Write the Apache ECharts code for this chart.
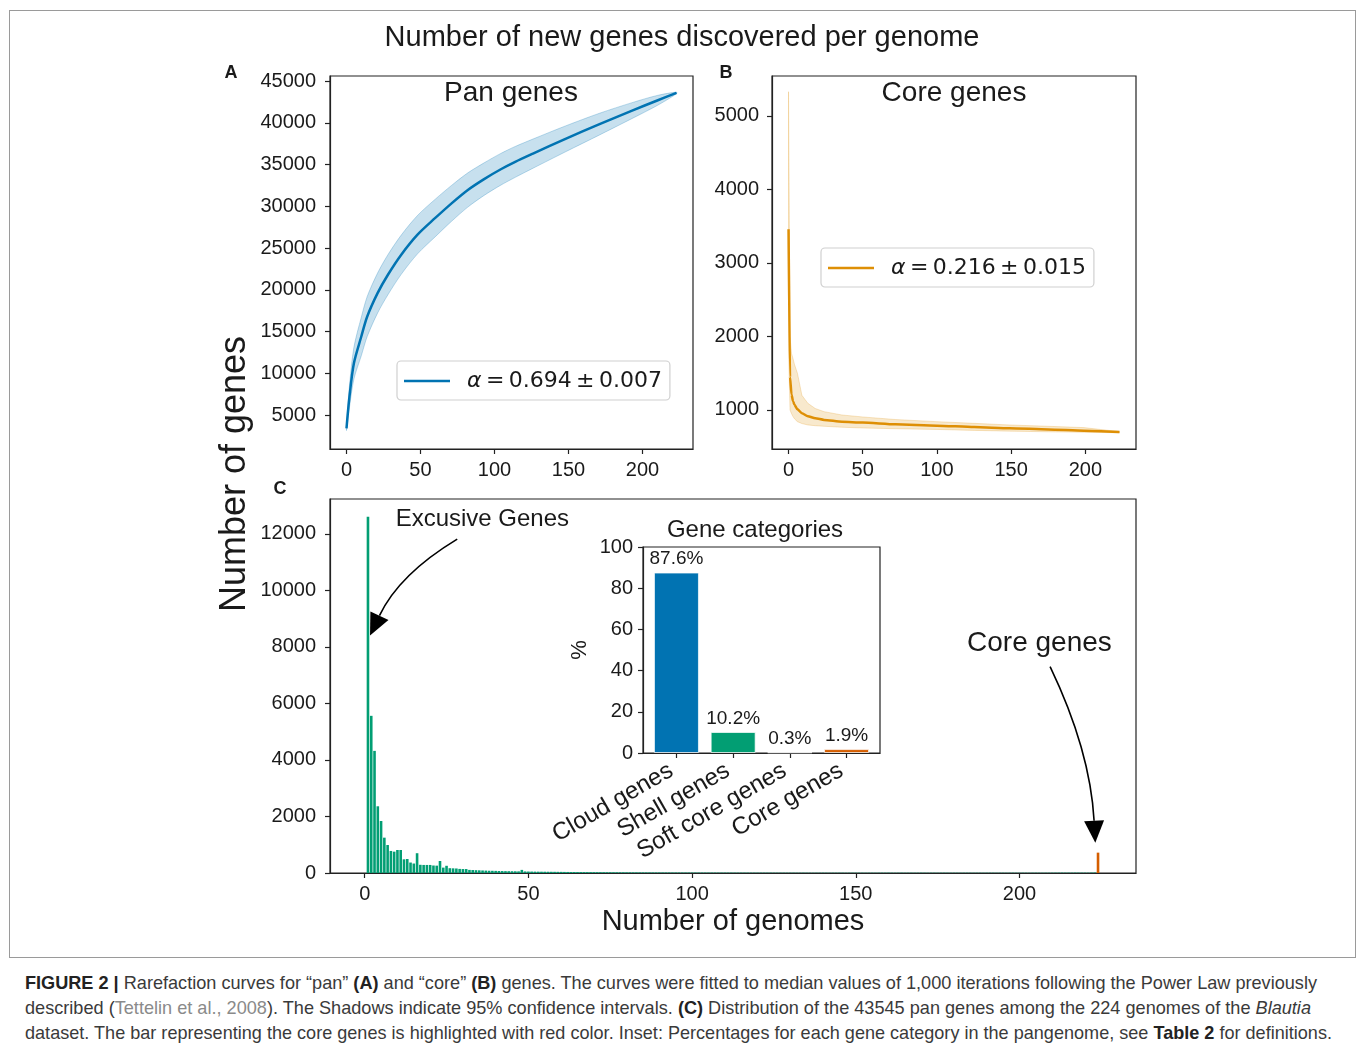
<!DOCTYPE html>
<html>
<head>
<meta charset="utf-8">
<script src="https://cdn.jsdelivr.net/npm/echarts@6/dist/echarts.min.js"></script>
<style>
  body { margin: 0; background: #fff; }
  #frame { position: absolute; left: 9px; top: 10px; width: 1347px; height: 948px; border: 1px solid #9a9a9a; box-sizing: border-box; }
  #chart { position: absolute; left: 0; top: 0; width: 1357px; height: 960px; }
  #caption { position: absolute; left: 25px; top: 970px; font-family: 'Liberation Sans', Arial, sans-serif; font-size: 19px; color: #3a3a3a; }
  #caption div { white-space: nowrap; height: 25px; line-height: 25px; }
  #caption span.line { display: inline-block; transform-origin: 0 50%; }
  #caption b { color: #222; }
  #caption .ref { color: #8a8a8a; }
</style>
</head>
<body>
<div id="frame"></div>
<div id="chart"></div>
<div id="caption">
  <div><span class="line"><b>FIGURE 2 |</b> Rarefaction curves for “pan” <b>(A)</b> and “core” <b>(B)</b> genes. The curves were fitted to median values of 1,000 iterations following the Power Law previously</span></div>
  <div><span class="line">described (<span class="ref">Tettelin et al., 2008</span>). The Shadows indicate 95% confidence intervals. <b>(C)</b> Distribution of the 43545 pan genes among the 224 genomes of the <i>Blautia</i></span></div>
  <div><span class="line">dataset. The bar representing the core genes is highlighted with red color. Inset: Percentages for each gene category in the pangenome, see <b>Table 2</b> for definitions.</span></div>
</div>
<script>
// --- panel A: pan genes rarefaction (median + 95% band)
const panX      = [0, 2, 5, 10, 14, 21, 28, 37, 48, 60, 71, 82, 93, 104, 114, 126, 148, 171, 193, 210, 223];
const panMedian = [3400, 7200, 11200, 14400, 16800, 19600, 21800, 24200, 26600, 28600, 30350, 31950, 33250, 34400, 35310, 36300, 38070, 39840, 41460, 42670, 43570];
const panUpper  = [3650, 8500, 13100, 16700, 19200, 22000, 24200, 26550, 28900, 30850, 32500, 34000, 35200, 36300, 37160, 38050, 39620, 41140, 42410, 43270, 43670];
const panLower  = [3150, 5900, 9300, 12100, 14400, 17200, 19400, 21850, 24300, 26350, 28200, 29900, 31300, 32500, 33460, 34550, 36520, 38540, 40510, 42070, 43470];

// --- panel B: core genes rarefaction
const coreX      = [0, 1, 2, 3, 4, 6, 9, 13, 18, 24, 36, 50, 72, 100, 125, 149, 175, 199, 223];
const coreMedian = [3460, 1450, 1210, 1120, 1070, 1010, 955, 915, 887, 865, 841, 828, 805, 787, 768, 751, 735, 719, 701];
const coreUpper  = [5330, 2000, 1770, 1700, 1620, 1500, 1200, 1091, 1020, 977, 932, 905, 870, 841, 818, 796, 778, 760, 706];
const coreLower  = [1800, 1000, 950, 910, 880, 841, 815, 796, 786, 778, 765, 755, 745, 735, 722, 712, 703, 697, 690];

// --- panel C: number of genes shared by exactly n genomes (n = 1..224)
const genomeCounts = [
  12600, 5560, 4320, 2360, 1840, 1250, 990, 780, 755, 814,
  814, 484, 495, 370, 335, 700, 290, 285, 285, 285,
  265, 260, 425, 190, 255, 170, 165, 160, 145, 140,
  140, 110, 105, 100, 95, 90, 85, 80, 78, 75,
  70, 68, 66, 64, 62, 60, 58, 110, 55, 52,
  50, 48, 47, 46, 45, 44, 43, 42, 41, 40,
  38, 37, 36, 35, 34, 33, 32, 32, 31, 30,
  30, 29, 28, 28, 27, 26, 26, 25, 25, 24,
  24, 23, 23, 22, 22, 21, 21, 20, 20, 20,
  19, 19, 19, 18, 18, 18, 17, 17, 17, 16,
  16, 16, 16, 15, 15, 15, 15, 14, 14, 14,
  14, 14, 13, 13, 13, 13, 13, 12, 12, 12,
  12, 12, 12, 12, 11, 11, 11, 11, 11, 11,
  11, 10, 10, 11, 10, 10, 9, 10, 10, 11,
  10, 9, 10, 10, 11, 10, 9, 10, 10, 10,
  11, 10, 9, 10, 10, 9, 10, 11, 10, 12,
  10, 9, 10, 11, 9, 10, 10, 9, 10, 11,
  10, 9, 10, 10, 9, 10, 11, 10, 9, 10,
  10, 9, 10, 11, 10, 9, 10, 10, 9, 10,
  11, 10, 9, 10, 10, 9, 10, 11, 10, 9,
  10, 10, 9, 10, 11, 10, 9, 10, 10, 11,
  12, 12, 14, 12, 13, 12, 14, 13, 12, 12,
  11, 15, 18, 720
];

// --- inset: gene categories
const categoryNames   = ['Cloud genes', 'Shell genes', 'Soft core genes', 'Core genes'];
const categoryPercent = [87.6, 10.2, 0.3, 1.9];

// --- ticks
const genomeTicks = [0, 50, 100, 150, 200];
const panTicksY   = [5000, 10000, 15000, 20000, 25000, 30000, 35000, 40000, 45000];
const coreTicksY  = [1000, 2000, 3000, 4000, 5000];
const histTicksY  = [0, 2000, 4000, 6000, 8000, 10000, 12000];
const insetTicksY = [0, 20, 40, 60, 80, 100];

const BLUE = '#0173b2', ORANGE = '#de8f05', GREEN = '#029e73', RED = '#d55e00';
const FONT = "'Liberation Sans', Arial, sans-serif";
const MATH = "'DejaVu Sans', sans-serif";
const INK = '#1a1a1a';

const pairs = (xs, ys) => xs.map((x, i) => [x, ys[i]]);

function valueAxis(grid, min, max, ticks, extra, margin) {
  return Object.assign({
    type: 'value', gridIndex: grid, min: min, max: max,
    axisLine: { show: true, onZero: false, lineStyle: { color: '#222', width: 1.2 } },
    axisTick: { show: true, length: 5, lineStyle: { color: '#222', width: 1.2 }, customValues: ticks },
    axisLabel: { customValues: ticks, formatter: v => String(v), fontFamily: FONT, fontSize: 20, color: INK, margin: margin || 11 },
    splitLine: { show: false }
  }, extra || {});
}

// shaded confidence band drawn as one polygon through the axis scales
function bandSeries(idx, xs, lo, up, fill, edge, smooth) {
  return {
    type: 'custom', xAxisIndex: idx, yAxisIndex: idx, silent: true, z: 1,
    data: [[xs[0], lo[0]]],
    renderItem: (params, api) => {
      const top = xs.map((x, i) => api.coord([x, up[i]]));
      const bottom = xs.map((x, i) => api.coord([x, lo[i]])).reverse();
      return {
        type: 'polygon',
        shape: { points: top.concat(bottom), smooth: smooth },
        style: { fill: fill, stroke: edge, lineWidth: 1 }
      };
    }
  };
}

const gridBase = { show: true, borderColor: '#222', borderWidth: 1.2, backgroundColor: '#fff', outerBoundsMode: 'none', containLabel: false };

const chart = echarts.init(document.getElementById('chart'));

const legendBase = {
  orient: 'horizontal', selectedMode: false,
  itemWidth: 46, itemHeight: 2.5,
  backgroundColor: 'rgba(255,255,255,0.85)',
  borderColor: '#d0d0d0', borderWidth: 1.2, borderRadius: 4,
  padding: [9, 8, 8, 7],
  formatter: n => n.replace('α', '{i|α}'),
  textStyle: {
    fontFamily: MATH, fontSize: 22, color: INK, padding: [0, 0, 0, 12],
    rich: { i: { fontFamily: MATH, fontStyle: 'italic', fontSize: 22, color: INK } }
  }
};

const panName = 'α\u2009=\u20090.694\u2009±\u20090.007';
const coreName = 'α\u2009=\u20090.216\u2009±\u20090.015';

const option = {
  animation: false,
  backgroundColor: 'transparent',
  grid: [
    Object.assign({ left: 330, top: 76, width: 363, height: 373 }, gridBase),
    Object.assign({ left: 772, top: 76, width: 364, height: 373 }, gridBase),
    Object.assign({ left: 330, top: 499, width: 806, height: 374 }, gridBase),
    Object.assign({ left: 643, top: 547, width: 237, height: 206 }, gridBase)
  ],
  xAxis: [
    valueAxis(0, -11.15, 234.15, genomeTicks),
    valueAxis(1, -11.15, 234.15, genomeTicks),
    valueAxis(2, -10.6, 235.6, genomeTicks, {
      name: 'Number of genomes', nameLocation: 'middle', nameGap: 34,
      nameTextStyle: { fontFamily: FONT, fontSize: 29, color: INK }
    }),
    valueAxis(3, -0.59, 3.59, [0, 1, 2, 3], {
      axisLabel: {
        customValues: [0, 1, 2, 3], formatter: v => categoryNames[v] || '',
        rotate: 30, fontFamily: FONT, fontSize: 24, color: INK, margin: 13, padding: [0, 6, 0, 0]
      }
    })
  ],
  yAxis: [
    valueAxis(0, 928, 45600, panTicksY, null, 14),
    valueAxis(1, 469, 5544, coreTicksY, null, 13),
    valueAxis(2, 0, 13230, histTicksY, null, 14),
    valueAxis(3, 0, 100, insetTicksY, {
      name: '%', nameLocation: 'middle', nameGap: 52, nameRotate: 90,
      nameTextStyle: { fontFamily: FONT, fontSize: 22, color: INK }
    }, 10)
  ],
  legend: [
    Object.assign({ left: 397, top: 361, data: [{ name: panName, icon: 'rect' }] }, legendBase),
    Object.assign({ left: 821, top: 248, data: [{ name: coreName, icon: 'rect' }] }, legendBase)
  ],
  series: [
    // A band + median
    bandSeries(0, panX, panLower, panUpper, 'rgba(1,115,178,0.22)', 'rgba(1,115,178,0.25)', 0.3),
    { name: panName, type: 'line', xAxisIndex: 0, yAxisIndex: 0, data: pairs(panX, panMedian),
      symbol: 'none', smooth: 0.3, lineStyle: { color: BLUE, width: 2.5 }, itemStyle: { color: BLUE }, z: 3 },

    // B band + median
    bandSeries(1, coreX, coreLower, coreUpper, 'rgba(222,143,5,0.2)', 'rgba(222,143,5,0.22)', 0),
    { name: coreName, type: 'line', xAxisIndex: 1, yAxisIndex: 1, data: pairs(coreX, coreMedian),
      symbol: 'none', smooth: 0.2, smoothMonotone: 'x', lineStyle: { color: ORANGE, width: 2.5 }, itemStyle: { color: ORANGE }, z: 3 },

    // C histogram, last bar = core genes
    { type: 'bar', xAxisIndex: 2, yAxisIndex: 2, barWidth: 2.6, silent: true,
      itemStyle: { color: GREEN },
      data: genomeCounts.map((v, i) => i === genomeCounts.length - 1
        ? { value: [i + 1, v], itemStyle: { color: RED } }
        : [i + 1, v]) },

    // inset
    { type: 'bar', xAxisIndex: 3, yAxisIndex: 3, barWidth: 45, silent: true,
      itemStyle: { borderColor: 'rgba(255,255,255,0.7)', borderWidth: 1 },
      label: { show: true, position: 'top', distance: 4, fontFamily: FONT, fontSize: 19, color: INK,
               formatter: p => p.value[1].toFixed(1) + '%' },
      data: categoryPercent.map((v, i) => ({ value: [i, v], itemStyle: { color: [BLUE, GREEN, ORANGE, RED][i] } })) }
  ]
};

chart.setOption(option);

// titles and panel letters
function label(text, x, y, size, opts) {
  return Object.assign({
    type: 'text', x: x, y: y, silent: true, z: 20,
    style: Object.assign({ text: text, font: size + 'px ' + FONT, fill: INK, align: 'center', verticalAlign: 'middle' }, (opts && opts.style) || {})
  }, (opts && opts.el) || {});
}

const graphics = [
  label('Number of new genes discovered per genome', 682, 38, 29),
  label('Pan genes', 511, 93, 28),
  label('Core genes', 954, 93, 28),
  label('Gene categories', 755, 530, 24),
  label('A', 231, 73, 18, { style: { font: 'bold 18px ' + FONT } }),
  label('B', 726, 73, 18, { style: { font: 'bold 18px ' + FONT } }),
  label('C', 280, 489, 18, { style: { font: 'bold 18px ' + FONT } }),
  label('Number of genes', 235, 474, 36, { el: { rotation: Math.PI / 2 } })
];

// annotations placed in data space of panel C
const toPx = p => chart.convertToPixel({ gridIndex: 2 }, p);
function arrow(from, ctrl, tip) {
  const a = toPx(from), c = toPx(ctrl), t = toPx(tip);
  const dx = t[0] - c[0], dy = t[1] - c[1], len = Math.hypot(dx, dy);
  const ux = dx / len, uy = dy / len, hl = 22, hw = 10;
  const bx = t[0] - ux * hl, by = t[1] - uy * hl;
  return [
    { type: 'bezierCurve', silent: true, z: 20,
      shape: { x1: a[0], y1: a[1], cpx1: c[0], cpy1: c[1], x2: bx, y2: by },
      style: { stroke: '#000', lineWidth: 1.6, fill: null } },
    { type: 'polygon', silent: true, z: 21,
      shape: { points: [[t[0], t[1]], [bx - uy * hw, by + ux * hw], [bx + uy * hw, by - ux * hw]] },
      style: { fill: '#000' } }
  ];
}
const exText = toPx([9.45, 12496]);
const coreText = toPx([206.1, 8142]);
graphics.push(label('Excusive Genes', exText[0], exText[1], 24, { style: { align: 'left' } }));
graphics.push(label('Core genes', coreText[0], coreText[1], 28));
arrow([28.26, 11812], [10.52, 10570], [1.62, 8400]).forEach(g => graphics.push(g));
arrow([209.36, 7303], [221.6, 4347], [223.17, 1073]).forEach(g => graphics.push(g));

chart.setOption({ graphic: graphics });

// fit caption lines to their printed widths
const targets = [1292, 1286, 1307];
document.querySelectorAll('#caption span.line').forEach((s, i) => {
  const w = s.getBoundingClientRect().width;
  s.style.transform = 'scaleX(' + (targets[i] / w) + ')';
});
</script>
</body>
</html>
